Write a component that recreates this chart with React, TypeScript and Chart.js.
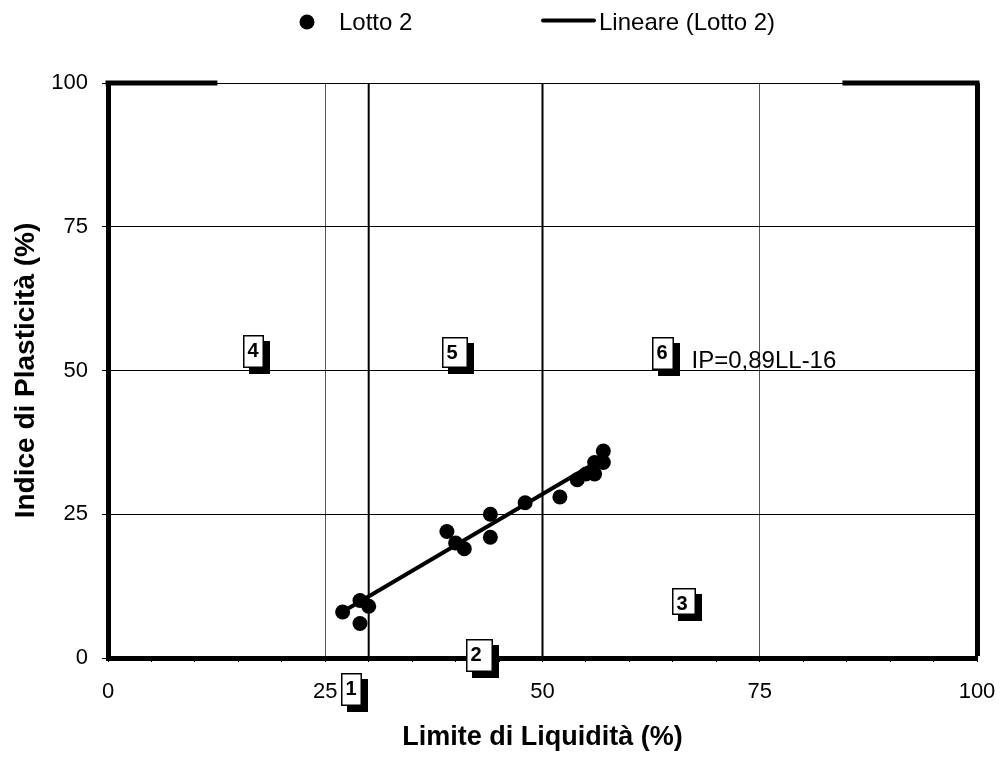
import React, { useEffect, useRef } from "react";
import { Chart, registerables } from "chart.js";

Chart.register(...registerables);

const FONT = "'Liberation Sans', Arial, Helvetica, sans-serif";

// Sample series: liquid limit (x) vs plasticity index (y)
const seriesName = "Lotto 2";
const trendName = "Lineare (Lotto 2)";
const liquidLimit = [27, 29, 29, 30, 39, 40, 41, 44, 44, 48, 52, 54, 55, 56, 56, 57, 57];
const plasticityIndex = [8, 10, 6, 9, 22, 20, 19, 25, 21, 27, 28, 31, 32, 32, 34, 34, 36];

// Linear trend: IP = 0.89 LL - 16
const trendSlope = 0.89;
const trendIntercept = -16;

// Axis ranges and labelled ticks
const axisMin = 0;
const axisMax = 100;
const majorTicks = [0, 25, 50, 75, 100];
const minorStep = 5;

// Vertical zone dividers (liquid limit)
const zoneDividers = [30, 50];

// Heavy segments of the upper frame (liquid limit ranges)
const topRuleSegments = [
  [0, 12.3],
  [84.8, 100],
];

// Numbered zone tags, anchored at their top-left corner in data units
const zoneTags = ["1", "2", "3", "4", "5", "6"];
const zoneTagLL = [26.8, 41.2, 64.9, 15.5, 38.4, 62.6];
const zoneTagIP = [-2.6, 3.3, 12.2, 56.2, 55.9, 55.8];
const zoneTagBox = [
  [21, 33],
  [27, 33],
  [24, 27],
  [21, 33],
  [26, 31],
  [22, 33],
];

// Position of the trend equation (data units, left / baseline)
const equationLL = 67.15;
const equationIP = 50.5;

const xTitle = "Limite di Liquidità (%)";
const yTitle = "Indice di Plasticità (%)";

const equationText = `IP=${trendSlope.toFixed(2).replace(".", ",")}LL${trendIntercept}`;

const points = liquidLimit.map((x, i) => ({ x, y: plasticityIndex[i] }));
const llMin = Math.min(...liquidLimit);
const llMax = Math.max(...liquidLimit);
const trendPoints = [
  { x: llMin, y: trendSlope * llMin + trendIntercept },
  { x: llMax, y: trendSlope * llMax + trendIntercept },
];

const legendPlugin = {
  id: "topLegend",
  afterDraw(chart: any) {
    const ctx = chart.ctx as CanvasRenderingContext2D;
    ctx.save();
    ctx.fillStyle = "#000";
    ctx.strokeStyle = "#000";
    ctx.font = `24px ${FONT}`;
    ctx.textBaseline = "alphabetic";
    ctx.textAlign = "left";
    ctx.beginPath();
    ctx.arc(307, 22, 7.5, 0, Math.PI * 2);
    ctx.fill();
    ctx.fillText(chart.data.datasets[0].label, 339, 29.5);
    ctx.lineWidth = 4;
    ctx.lineCap = "round";
    ctx.beginPath();
    ctx.moveTo(543, 20.5);
    ctx.lineTo(594, 20.5);
    ctx.stroke();
    ctx.fillText(chart.data.datasets[1].label, 599, 29.5);
    ctx.restore();
  },
};

const zoneTagPlugin = {
  id: "zoneTags",
  afterDraw(chart: any) {
    const ctx = chart.ctx as CanvasRenderingContext2D;
    const xs = chart.scales.x;
    const ys = chart.scales.y;
    ctx.save();
    zoneTags.forEach((tag, i) => {
      const px = Math.round(xs.getPixelForValue(zoneTagLL[i]));
      const py = Math.round(ys.getPixelForValue(zoneTagIP[i]));
      const [w, h] = zoneTagBox[i];
      ctx.fillStyle = "#000";
      ctx.fillRect(px + 6, py + 6, w, h);
      ctx.fillStyle = "#fff";
      ctx.fillRect(px, py, w, h);
      ctx.lineWidth = 1.5;
      ctx.strokeStyle = "#000";
      ctx.strokeRect(px + 0.75, py + 0.75, w - 1.5, h - 1.5);
      ctx.fillStyle = "#000";
      ctx.font = `bold 20px ${FONT}`;
      ctx.textAlign = "left";
      ctx.textBaseline = "alphabetic";
      ctx.fillText(tag, px + 4.5, py + 21.5);
    });
    ctx.font = `24px ${FONT}`;
    ctx.fillStyle = "#000";
    ctx.textAlign = "left";
    ctx.textBaseline = "alphabetic";
    ctx.fillText(equationText, xs.getPixelForValue(equationLL), ys.getPixelForValue(equationIP));
    ctx.restore();
  },
};

export default function App() {
  const canvasRef = useRef<HTMLCanvasElement>(null);

  useEffect(() => {
    const canvas = canvasRef.current;
    if (!canvas) return;

    const dividerSets = zoneDividers.map((ll) => ({
      label: `divider-${ll}`,
      data: [
        { x: ll, y: axisMin },
        { x: ll, y: axisMax },
      ],
      showLine: true,
      borderColor: "#000",
      borderWidth: 2,
      pointRadius: 0,
      fill: false,
    }));

    const topRuleSets = topRuleSegments.map(([a, b], i) => ({
      label: `top-rule-${i}`,
      data: [
        { x: a, y: axisMax },
        { x: b, y: axisMax },
      ],
      showLine: true,
      borderColor: "#000",
      borderWidth: 5,
      borderCapStyle: "square",
      pointRadius: 0,
      fill: false,
      clip: 8,
    }));

    const chart = new Chart(canvas, {
      type: "scatter",
      data: {
        datasets: [
          {
            label: seriesName,
            data: points,
            backgroundColor: "#000",
            borderColor: "#000",
            borderWidth: 0,
            pointRadius: 7.5,
            pointHoverRadius: 7.5,
            showLine: false,
          },
          {
            label: trendName,
            data: trendPoints,
            showLine: true,
            borderColor: "#000",
            borderWidth: 4,
            pointRadius: 0,
            fill: false,
          },
          ...dividerSets,
          ...topRuleSets,
        ] as any,
      },
      options: {
        responsive: false,
        animation: false,
        devicePixelRatio: 1,
        layout: { padding: { top: 83, right: 25, left: 0, bottom: 0 } },
        plugins: {
          legend: { display: false },
          tooltip: { enabled: false },
        },
        scales: {
          x: {
            type: "linear",
            min: axisMin,
            max: axisMax,
            afterFit: (s: any) => {
              s.height = 100;
              s.paddingLeft = 0;
              s.paddingRight = 0;
            },
            border: { display: true, color: "#000", width: 5 },
            grid: {
              color: (c: any) => {
                const v = c.tick?.value;
                if (v === 100 || v === 50) return "#000";
                if (v === 25 || v === 75) return "#555";
                return "rgba(0,0,0,0)";
              },
              lineWidth: (c: any) => (c.tick?.value === 100 ? 5 : 1),
              tickColor: "#000",
              tickWidth: 1,
              tickLength: 4,
            },
            ticks: {
              stepSize: minorStep,
              autoSkip: false,
              maxRotation: 0,
              padding: 17,
              color: "#000",
              font: { family: FONT, size: 22 },
              callback: (v: any) => (majorTicks.includes(Number(v)) ? String(v) : ""),
            },
            title: {
              display: true,
              text: xTitle,
              color: "#000",
              font: { family: FONT, size: 27, weight: "bold" },
              padding: { top: 0, bottom: 4.5 },
            },
          },
          y: {
            type: "linear",
            min: axisMin,
            max: axisMax,
            afterFit: (s: any) => {
              s.width = 108;
              s.paddingTop = 0;
              s.paddingBottom = 0;
            },
            border: { display: true, color: "#000", width: 5 },
            grid: {
              color: "#000",
              lineWidth: 1,
              tickColor: "#000",
              tickWidth: 1,
              tickLength: 6,
            },
            ticks: {
              stepSize: 25,
              padding: 14,
              color: "#000",
              font: { family: FONT, size: 22 },
            },
            title: {
              display: true,
              text: yTitle,
              color: "#000",
              font: { family: FONT, size: 28, weight: "bold" },
              padding: { top: 9.5, bottom: 0 },
            },
          },
        },
      },
      plugins: [legendPlugin, zoneTagPlugin],
    } as any);

    return () => chart.destroy();
  }, []);

  return (
    <div
      style={{
        position: "fixed",
        left: 0,
        top: 0,
        width: 1002,
        height: 758,
        background: "#fff",
      }}
    >
      <canvas
        ref={canvasRef}
        width={1002}
        height={758}
        style={{ display: "block", width: 1002, height: 758 }}
      />
    </div>
  );
}
